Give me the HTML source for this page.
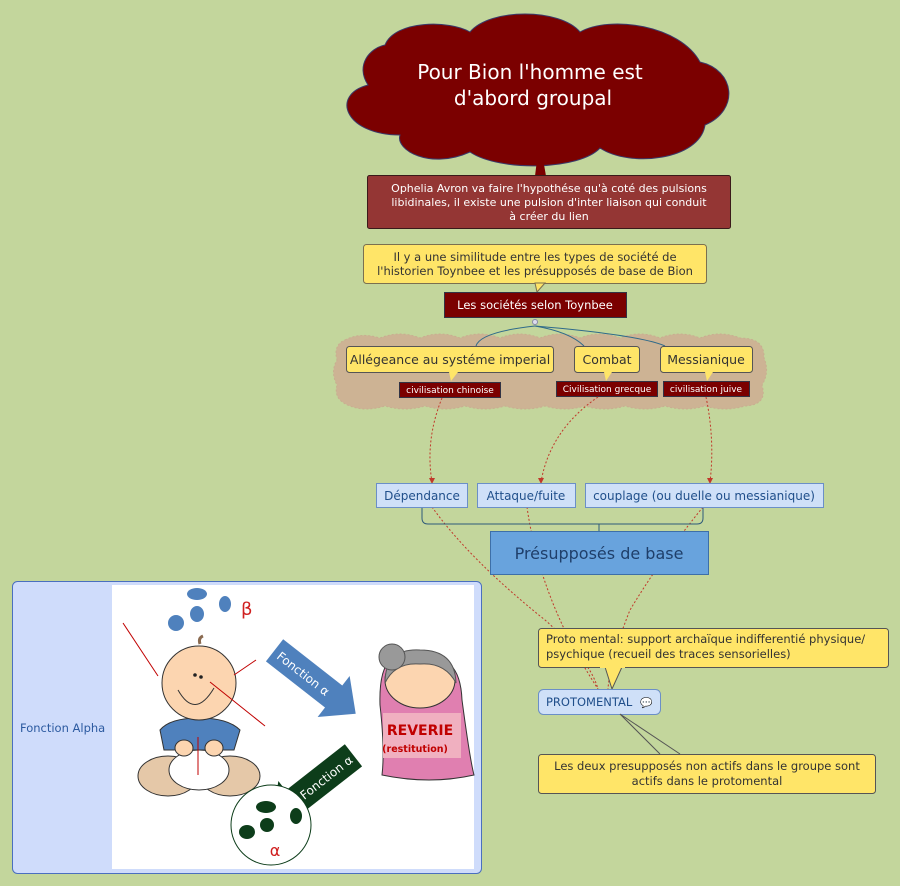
<!DOCTYPE html>
<html><head><meta charset="utf-8"><style>
body{margin:0;width:900px;height:886px;background:#c3d69c;overflow:hidden;font-family:"DejaVu Sans","Liberation Sans",sans-serif}
svg{position:absolute;left:0;top:0}
</style></head><body>
<svg width="900" height="886" viewBox="0 0 900 886" xmlns="http://www.w3.org/2000/svg" font-family="DejaVu Sans, Liberation Sans, sans-serif">
<!-- main cloud -->
<g fill="#7b0000" stroke="#3a3a6a" stroke-width="1">
<path d="M385,45 C395,20 450,20 470,32 C490,8 560,8 580,32 C610,15 680,25 700,62 C735,70 740,110 705,125 C700,160 630,168 600,148 C580,170 500,172 470,152 C430,170 395,150 400,135 C345,135 330,95 368,85 C355,65 370,48 385,45 Z"/>
</g>
<text x="530" y="79" fill="#fff" font-size="20" text-anchor="middle">Pour Bion l'homme est</text>
<text x="533" y="105" fill="#fff" font-size="20" text-anchor="middle">d'abord groupal</text>
<path d="M537,160 L542,153 L546,176 L535,176 Z" fill="#7b0000"/>
<!-- Ophelia -->
<rect x="367.5" y="175.5" width="363" height="53" rx="2" fill="#943634" stroke="#3a1a1a"/>
<g fill="#fff" font-size="11" text-anchor="middle"><text x="549" y="192">Ophelia Avron va faire l'hypothése qu'à coté des pulsions</text><text x="549" y="206">libidinales, il existe une pulsion d'inter liaison qui conduit</text><text x="549" y="220">à créer du lien</text></g>
<!-- yellow -->
<rect x="363.5" y="244.5" width="343" height="39" rx="3" fill="#ffe568" stroke="#7a7050"/>
<path d="M535,283 L537,292 L545,283 Z" fill="#ffe568" stroke="#7a7050"/>
<g fill="#333" font-size="11.5" text-anchor="middle"><text x="535" y="261">Il y a une similitude entre les types de société de</text><text x="535" y="275">l'historien Toynbee et les présupposés de base de Bion</text></g>
<rect x="444.5" y="292.5" width="182" height="25" fill="#7b0000" stroke="#334"/>
<text x="535" y="309" fill="#fff" font-size="11.5" text-anchor="middle">Les sociétés selon  Toynbee</text>
<!-- tan cloud band -->
<path d="M345,340 Q360,332 380,338 Q400,330 420,338 Q440,330 460,338 Q480,330 500,338 Q520,330 540,338 Q560,330 580,338 Q600,330 620,338 Q640,330 660,338 Q680,330 700,338 Q720,330 740,338 Q765,338 764,358 Q770,372 762,385 Q768,405 745,406 Q725,412 705,406 Q685,412 665,406 Q645,412 625,406 Q605,412 585,406 Q565,412 545,406 Q525,412 505,406 Q485,412 465,406 Q445,412 425,406 Q405,412 385,406 Q365,412 350,406 Q333,400 337,385 Q330,372 337,360 Q333,345 345,340 Z" fill="#cdb394" stroke="#c8ae90" stroke-dasharray="2,2"/>
<g stroke="#2e6a8a" fill="none" stroke-width="1"><path d="M535,326 Q480,332 476,346"/><path d="M535,326 Q570,332 584,346"/><path d="M535,326 Q640,335 665,346"/></g>
<circle cx="535" cy="322" r="2.5" fill="#dde" stroke="#88a"/>
<g fill="#ffe568" stroke="#555" stroke-width="1">
<rect x="346.5" y="346.5" width="207" height="26" rx="3"/><rect x="574.5" y="346.5" width="65" height="26" rx="3"/><rect x="660.5" y="346.5" width="92" height="26" rx="3"/>
</g>
<g fill="#ffe568"><path d="M449,372 L451,381 L458,372Z"/><path d="M604,372 L606,381 L612,372Z"/><path d="M705,372 L707,381 L713,372Z"/></g>
<g fill="#333" font-size="12.5" text-anchor="middle"><text x="450" y="364">Allégeance au systéme imperial</text><text x="607" y="364">Combat</text><text x="706" y="364">Messianique</text></g>
<g fill="#7b0000" stroke="#334"><rect x="399.5" y="382.5" width="101" height="15"/><rect x="556.5" y="381.5" width="101" height="15"/><rect x="663.5" y="381.5" width="86" height="15"/></g>
<g fill="#fff" font-size="9" text-anchor="middle"><text x="450" y="393">civilisation chinoise</text><text x="607" y="392">Civilisation grecque</text><text x="706" y="392">civilisation juive</text></g>
<!-- dashed curves -->
<g stroke="#c0392b" fill="none" stroke-dasharray="2,2" stroke-width="1">
<path d="M442,398 Q425,440 432,482"/><path d="M598,397 Q550,430 541,482"/><path d="M706,397 Q715,440 710,482"/>
<path d="M432,507 Q470,560 545,620 Q590,660 598,689"/><path d="M527,507 Q540,600 598,689"/><path d="M703,507 Q660,560 630,610 Q610,660 608,689"/>
</g>
<g fill="#c0392b"><path d="M429,478 L432,484 L435,478Z"/><path d="M538,478 L541,484 L544,478Z"/><path d="M707,478 L710,484 L713,478Z"/></g>
<!-- blue boxes -->
<g fill="#cfe0f8" stroke="#6b8fc7"><rect x="376.5" y="483.5" width="91" height="24"/><rect x="477.5" y="483.5" width="98" height="24"/><rect x="585.5" y="483.5" width="238" height="24"/></g>
<g fill="#1f4e8a" font-size="12" text-anchor="middle"><text x="422" y="500">Dépendance</text><text x="526" y="500">Attaque/fuite</text><text x="704" y="500">couplage (ou duelle ou messianique)</text></g>
<path d="M422,508 L422,518 Q422,524 428,524 L697,524 Q703,524 703,518 L703,508 M599,524 L599,531" stroke="#2e5a7a" fill="none"/>
<rect x="490.5" y="531.5" width="218" height="43" fill="#68a3dd" stroke="#3d6fa8"/>
<text x="599" y="559" fill="#1f3f6a" font-size="16" text-anchor="middle">Présupposés de base</text>
<!-- proto mental -->
<rect x="538.5" y="628.5" width="350" height="39" rx="3" fill="#ffe568" stroke="#555"/>
<path d="M605,667 L612,689 L622,667Z" fill="#ffe568" stroke="#555"/>
<rect x="600" y="665" width="25" height="3" fill="#ffe568"/>
<g fill="#333" font-size="11.5"><text x="546" y="643">Proto mental: support archaïque indifferentié physique/</text><text x="546" y="658">psychique (recueil des traces sensorielles)</text></g>
<rect x="538.5" y="689.5" width="122" height="25" rx="5" fill="#cfe0f8" stroke="#6b8fc7"/>
<text x="546" y="706" fill="#1f4e8a" font-size="11.5">PROTOMENTAL</text>
<text x="640" y="706" fill="#6b8fc7" font-size="10">💬</text>
<path d="M620,714 L660,754 M620,714 L680,754" fill="none" stroke="#555"/>
<rect x="538.5" y="754.5" width="337" height="39" rx="3" fill="#ffe568" stroke="#555"/>
<g fill="#333" font-size="11.5" text-anchor="middle"><text x="707" y="770">Les deux presupposés non actifs dans le groupe sont</text><text x="707" y="785">actifs dans le protomental</text></g>
<!-- left panel -->
<rect x="12.5" y="581.5" width="469" height="292" rx="5" fill="#cfdcfb" stroke="#4a6fbf"/>
<rect x="112" y="585" width="362" height="284" fill="#fff"/>
<text x="20" y="732" fill="#2c5aa0" font-size="11.5">Fonction Alpha</text>
<!-- beta ellipses -->
<g fill="#4f81bd"><ellipse cx="197" cy="594" rx="10" ry="6"/><ellipse cx="225" cy="604" rx="6" ry="8"/><ellipse cx="197" cy="614" rx="7" ry="8"/><ellipse cx="176" cy="623" rx="8" ry="8"/></g>
<text x="241" y="615" fill="#d02020" font-size="18">β</text>
<!-- baby -->
<g stroke="#333" stroke-width="1">
<ellipse cx="168" cy="776" rx="30" ry="20" fill="#e5c8a8"/><ellipse cx="230" cy="776" rx="30" ry="20" fill="#e5c8a8"/>
<ellipse cx="199" cy="770" rx="30" ry="20" fill="#fff"/>
<path d="M160,730 Q170,718 199,718 Q228,718 240,730 L234,750 L164,750 Z" fill="#4f81bd"/>
<ellipse cx="184" cy="748" rx="9" ry="8" fill="#fcd5b0"/><ellipse cx="214" cy="748" rx="9" ry="8" fill="#fcd5b0"/>
<circle cx="199" cy="683" r="37" fill="#fcd5b0"/>
<path d="M178,690 Q195,720 214,688" fill="none"/>
<path d="M200,644 Q198,638 203,636" fill="none" stroke="#8a6a50" stroke-width="3"/>
</g>
<g fill="#222"><circle cx="195" cy="675" r="1.8"/><circle cx="201" cy="677" r="1.8"/></g>
<g stroke="#c00000" stroke-width="1"><path d="M123,623 L158,676"/><path d="M256,660 L234,675"/><path d="M265,726 L210,682"/><path d="M198,775 L198,737"/></g>
<!-- fonction arrows -->
<g transform="translate(310,678) rotate(38)">
<path d="M-45,-14 L30,-14 L30,-26 L58,0 L30,26 L30,14 L-45,14 Z" fill="#4f81bd"/>
<text x="-8" y="5" fill="#fff" font-size="12" text-anchor="middle">Fonction α</text></g>
<g transform="translate(318,783) rotate(-38)">
<path d="M45,-14 L-30,-14 L-30,-26 L-58,0 L-30,26 L-30,14 L45,14 Z" fill="#0d3d1a"/>
<text x="10" y="5" fill="#fff" font-size="12" text-anchor="middle">Fonction α</text></g>
<!-- grandma -->
<path d="M380,705 Q378,640 420,660 Q460,650 462,700 Q470,760 474,775 Q430,785 382,775 Q385,750 380,705 Z" fill="#e07fb0" stroke="#333"/>
<ellipse cx="420" cy="680" rx="35" ry="28" fill="#fcd5b0" stroke="#333"/>
<path d="M385,683 Q385,648 420,650 Q455,650 456,683 Q445,662 420,664 Q395,662 385,683Z" fill="#999" stroke="#555"/>
<circle cx="392" cy="657" r="13" fill="#999" stroke="#555"/>
<rect x="383" y="713" width="78" height="45" fill="#f0b0c0"/>
<text x="420" y="735" fill="#c00000" font-size="14" font-weight="bold" text-anchor="middle">REVERIE</text>
<text x="415" y="752" fill="#c00000" font-size="9.5" font-weight="bold" text-anchor="middle">(restitution)</text>
<!-- alpha circle -->
<circle cx="271" cy="825" r="40" fill="#fff" stroke="#0d3d1a"/>
<g fill="#0d3d1a"><ellipse cx="266" cy="807" rx="10" ry="6"/><ellipse cx="296" cy="816" rx="6" ry="8"/><ellipse cx="267" cy="825" rx="7" ry="7"/><ellipse cx="247" cy="832" rx="8" ry="7"/></g>
<text x="275" y="856" fill="#d02020" font-size="16" text-anchor="middle">α</text>
</svg>
</body></html>
